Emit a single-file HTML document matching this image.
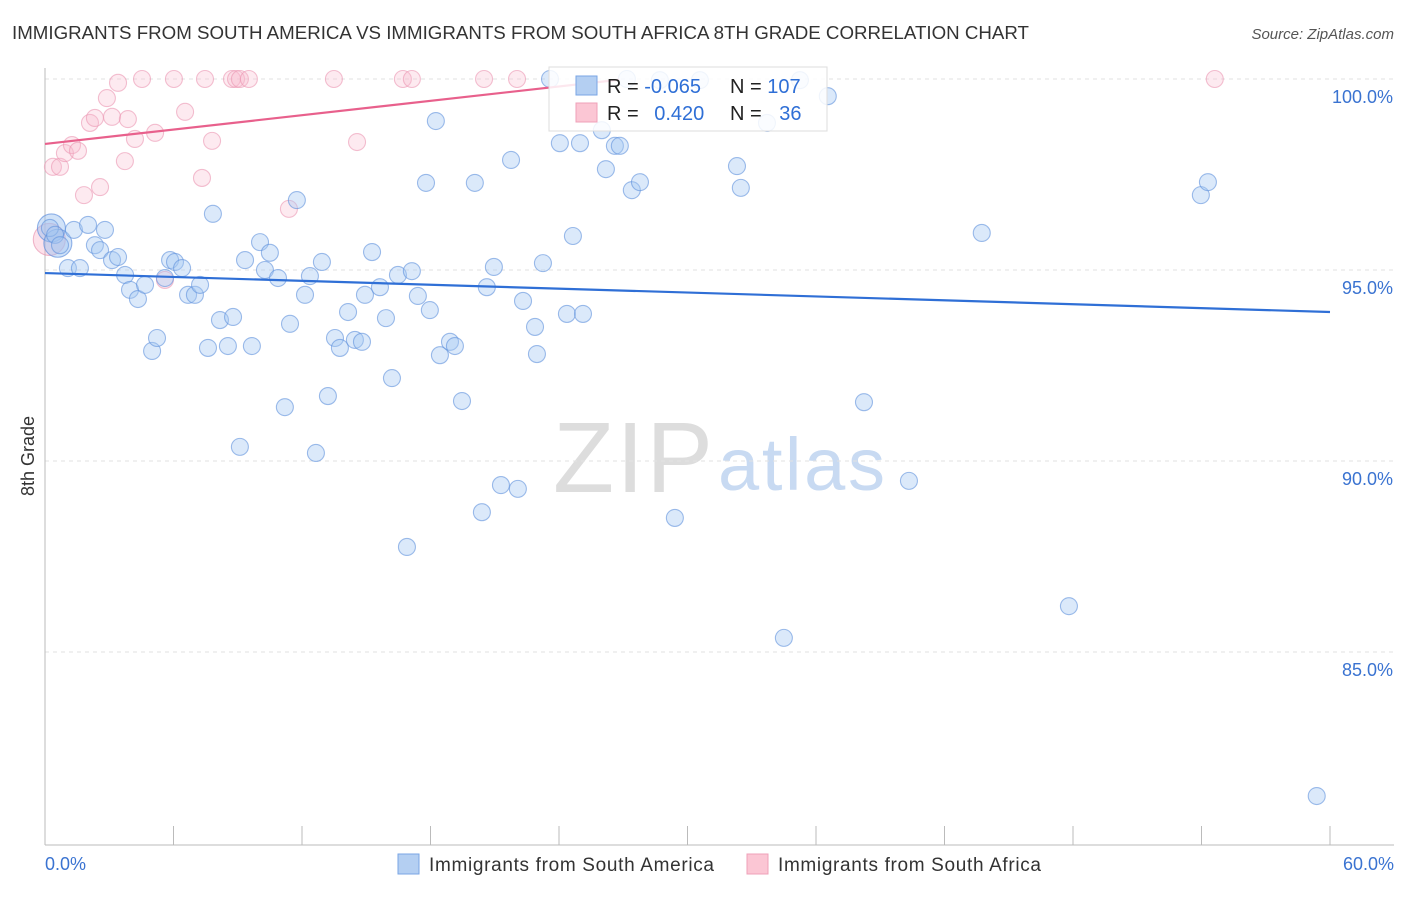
<!DOCTYPE html>
<html><head><meta charset="utf-8"><style>
body{margin:0;background:#fff;font-family:"Liberation Sans",sans-serif;}
svg text{font-family:"Liberation Sans",sans-serif;}
</style></head><body>
<svg id="chart" width="1406" height="892">
<text x="12" y="39" font-size="18" fill="#333" textLength="1017" lengthAdjust="spacingAndGlyphs">IMMIGRANTS FROM SOUTH AMERICA VS IMMIGRANTS FROM SOUTH AFRICA 8TH GRADE CORRELATION CHART</text>
<text x="1394" y="39" font-size="15" fill="#555" font-style="italic" text-anchor="end">Source: ZipAtlas.com</text>
<g>
<text x="553" y="492" font-size="100" fill="#ddd" font-family="Liberation Serif" textLength="160">ZIP</text>
<text x="718" y="490" font-size="74" fill="#c8daf2" textLength="167">atlas</text>
</g>
<text transform="translate(34,456) rotate(-90)" font-size="18" fill="#333" text-anchor="middle">8th Grade</text>
<g id="grid"></g><g id="axes"></g><g id="pts"></g><g id="trend"></g>
<g>
<rect x="549" y="67" width="278" height="64" fill="rgba(255,255,255,0.85)" stroke="#ddd"/>
<rect x="576" y="76" width="21" height="19" fill="#b4cff2" stroke="#7aa6e4"/>
<rect x="576" y="103" width="21" height="19" fill="#fbc6d4" stroke="#efa0b8"/>
<text x="607" y="93" font-size="20" fill="#222">R = <tspan fill="#2f6fd6">-0.065</tspan></text>
<text x="730" y="93" font-size="20" fill="#222">N = <tspan fill="#2f6fd6">107</tspan></text>
<text x="607" y="120" font-size="20" fill="#222">R = <tspan fill="#2f6fd6" dx="10">0.420</tspan></text>
<text x="730" y="120" font-size="20" fill="#222">N = <tspan fill="#2f6fd6" dx="12">36</tspan></text>
</g>
<g>
<rect x="398" y="854" width="21" height="20" fill="#b4cff2" stroke="#7aa6e4"/>
<text x="429" y="871" font-size="19" fill="#333" textLength="285">Immigrants from South America</text>
<rect x="747" y="854" width="21" height="20" fill="#fbc6d4" stroke="#efa0b8"/>
<text x="778" y="871" font-size="19" fill="#333" textLength="263">Immigrants from South Africa</text>
</g>
</svg>
<script>
const yTicks=[100,95,90,85];
const yTickLabels=["100.0%","95.0%","90.0%","85.0%"];
const xTicks=[0,6,12,18,24,30,36,42,48,54,60];
const xEndLabels=["0.0%","60.0%"];
const blueX=[0.23,0.47,0.70,1.07,1.35,1.63,2.01,2.33,2.57,2.80,3.13,3.41,3.74,3.97,4.34,4.67,5.00,5.23,5.60,5.84,6.07,6.40,6.68,7.00,7.24,7.61,7.84,8.17,8.54,8.78,9.10,9.34,9.66,10.04,10.27,10.50,10.88,11.20,11.44,11.76,12.14,12.37,12.65,12.93,13.21,13.54,13.77,14.15,14.47,14.80,14.94,15.27,15.64,15.92,16.20,16.48,16.90,17.13,17.41,17.79,17.97,18.25,18.44,18.91,19.14,19.47,20.07,20.40,20.63,20.96,21.29,21.76,22.08,22.32,22.88,22.97,23.25,23.58,24.04,24.37,24.65,24.98,25.12,26.00,26.19,26.61,26.84,27.17,27.40,27.78,28.71,29.41,30.58,32.31,32.49,33.71,34.50,35.25,36.55,38.24,40.34,43.74,47.81,53.97,54.30,59.38];
const blueY=[96.10,95.92,95.65,95.05,96.05,95.05,96.18,95.65,95.52,96.05,95.26,95.34,94.87,94.48,94.24,94.61,92.88,93.22,94.79,95.26,95.21,95.05,94.35,94.35,94.61,92.96,96.47,93.69,93.01,93.77,90.37,95.26,93.01,95.73,95.00,95.45,94.79,91.41,93.59,96.83,94.35,94.84,90.21,95.21,91.70,93.22,92.96,93.90,93.17,93.12,94.35,95.47,94.55,93.74,92.17,94.87,87.75,94.97,94.32,97.28,93.95,98.90,92.77,93.12,93.01,91.57,97.28,88.66,94.55,95.08,89.37,97.88,89.27,94.19,93.51,92.80,95.18,100.0,98.32,93.85,95.89,98.32,93.85,98.66,97.64,98.25,98.25,100.0,97.09,97.30,99.97,88.51,99.97,97.72,97.15,98.85,85.37,99.97,99.55,91.54,89.48,95.97,86.20,96.96,97.30,81.23];
const pinkX=[0.37,0.70,0.93,1.26,1.54,1.82,2.10,2.33,2.57,2.89,3.13,3.41,3.73,3.87,4.20,4.53,5.14,5.60,6.02,6.54,7.33,7.47,7.80,8.73,8.92,9.10,9.52,11.39,13.49,14.57,16.71,17.13,20.50,22.04,54.62];
const pinkY=[97.70,97.70,98.06,98.27,98.12,96.96,98.85,98.98,97.17,99.50,99.01,99.90,97.85,98.95,98.43,100,98.59,94.74,100,99.14,97.41,100,98.38,100,100,100,100,96.60,100,98.35,100,100,100,100,100];
const bigBlue=[[0.3,96.1],[0.6,95.7]];
const bigPink=[[0.2,95.8]];
const blueTrend=[[0,94.92],[60,93.9]];
const pinkTrend=[[0,98.3],[26.8,99.98]];
const NS="http://www.w3.org/2000/svg";
const X=v=>45+v/60*1285, Y=v=>79+(100-v)/5*191;
function mk(tag,attrs,parent){const e=document.createElementNS(NS,tag);for(const k in attrs)e.setAttribute(k,attrs[k]);document.getElementById(parent).appendChild(e);return e;}
yTicks.forEach((t,i)=>{
 const l=mk('line',{x1:45,x2:1394,y1:Y(t),y2:Y(t),stroke:'#e2e2e2','stroke-dasharray':'4,4'},'grid');
 
 
 const tx=mk('text',{x:1393,y:Y(t)+24,'font-size':18,fill:'#3a73d1','text-anchor':'end'},'grid');
 tx.textContent=yTickLabels[i];
 
 
});
const ax=mk('line',{x1:45,x2:45,y1:68,y2:845,stroke:'#bbb'},'axes');


const bx=mk('line',{x1:45,x2:1394,y1:845,y2:845,stroke:'#bbb'},'axes');


xTicks.forEach(t=>{const l=mk('line',{x1:X(t),x2:X(t),y1:826,y2:845,stroke:'#bbb'},'axes');
 
 });
[[0,'start',45],[60,'end',1394]].forEach((d,i)=>{const t=mk('text',{x:d[2],y:870,'font-size':18,fill:'#3a73d1','text-anchor':d[1]},'axes');t.textContent=xEndLabels[i];
 
 });
function dot(x,y,r,fill,stroke,name){const c=mk('circle',{cx:X(x),cy:Y(y),r:r,fill:fill,stroke:stroke,'stroke-width':1.1},'pts');
 
 }
bigPink.forEach(p=>dot(p[0],p[1],16,'rgba(245,170,195,0.35)','rgba(230,140,170,0.6)','pink-point-large'));
bigBlue.forEach(p=>dot(p[0],p[1],14,'rgba(150,190,240,0.45)','rgba(90,140,220,0.65)','blue-point-large'));
pinkX.forEach((x,i)=>dot(x,pinkY[i],8.5,'rgba(248,185,205,0.3)','rgba(235,150,178,0.6)','pink-point'));
blueX.forEach((x,i)=>dot(x,blueY[i],8.5,'rgba(165,200,242,0.4)','rgba(95,145,220,0.6)','blue-point'));
const bt=mk('line',{x1:X(blueTrend[0][0]),y1:Y(blueTrend[0][1]),x2:X(blueTrend[1][0]),y2:Y(blueTrend[1][1]),stroke:'#2f6fd6','stroke-width':2.2},'trend');


const pt=mk('line',{x1:X(pinkTrend[0][0]),y1:Y(pinkTrend[0][1]),x2:X(pinkTrend[1][0]),y2:Y(pinkTrend[1][1]),stroke:'#e8608c','stroke-width':2.2},'trend');


</script>
</body></html>
